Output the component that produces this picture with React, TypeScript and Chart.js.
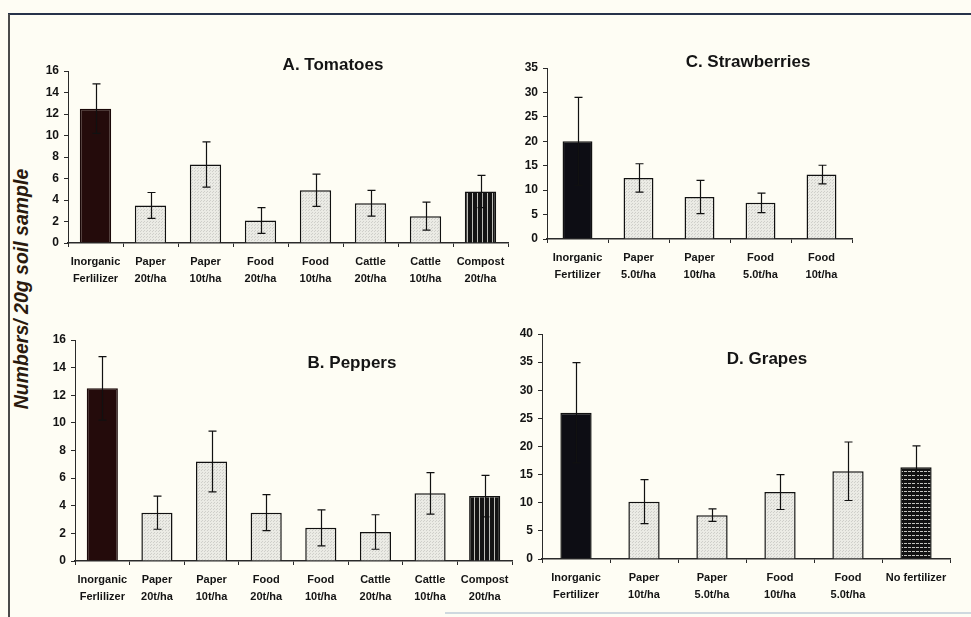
import React, { useEffect, useRef } from "react";
import { Chart, registerables } from "chart.js";

Chart.register(...registerables);

// ---------- DATA ----------
const tomatoLabels: string[][] = [
  ["Inorganic", "Ferlilizer"], ["Paper", "20t/ha"], ["Paper", "10t/ha"], ["Food", "20t/ha"],
  ["Food", "10t/ha"], ["Cattle", "20t/ha"], ["Cattle", "10t/ha"], ["Compost", "20t/ha"],
];
const tomatoValues = [12.5, 3.5, 7.3, 2.1, 4.9, 3.7, 2.5, 4.8];
const tomatoErrors = [2.3, 1.2, 2.1, 1.2, 1.5, 1.2, 1.3, 1.5];
const tomatoFills = ["darkRed", "light", "light", "light", "light", "light", "light", "vstripe"];

const pepperLabels: string[][] = [
  ["Inorganic", "Ferlilizer"], ["Paper", "20t/ha"], ["Paper", "10t/ha"], ["Food", "20t/ha"],
  ["Food", "10t/ha"], ["Cattle", "20t/ha"], ["Cattle", "10t/ha"], ["Compost", "20t/ha"],
];
const pepperValues = [12.5, 3.5, 7.2, 3.5, 2.4, 2.1, 4.9, 4.7];
const pepperErrors = [2.3, 1.2, 2.2, 1.3, 1.3, 1.25, 1.5, 1.5];
const pepperFills = ["darkRed", "light", "light", "light", "light", "light", "light", "vstripe"];

const strawberryLabels: string[][] = [
  ["Inorganic", "Fertilizer"], ["Paper", "5.0t/ha"], ["Paper", "10t/ha"], ["Food", "5.0t/ha"], ["Food", "10t/ha"],
];
const strawberryValues = [20.0, 12.5, 8.6, 7.4, 13.2];
const strawberryErrors = [9.0, 2.9, 3.4, 2.0, 1.9];
const strawberryFills = ["dark", "light", "light", "light", "light"];

const grapeLabels: (string | string[])[] = [
  ["Inorganic", "Fertilizer"], ["Paper", "10t/ha"], ["Paper", "5.0t/ha"], ["Food", "10t/ha"], ["Food", "5.0t/ha"], "No fertilizer",
];
const grapeValues = [26.0, 10.2, 7.8, 11.9, 15.6, 16.3];
const grapeErrors = [8.9, 3.9, 1.1, 3.1, 5.2, 3.8];
const grapeFills = ["dark", "light", "light", "light", "light", "hstripe"];

const yAxisTitle = "Numbers/ 20g soil sample";

// ---------- LAYOUT / STYLE ----------
const Y_AXIS_W = 50;
const X_AXIS_H = 52;
const PAD_TOP = 30;
const PAD_RIGHT = 10;

type PanelSpec = {
  title: string;
  labels: (string | string[])[];
  values: number[];
  errors: number[];
  fills: string[];
  max: number;
  step: number;
  plot: { left: number; right: number; top: number; bottom: number };
  titlePos: { x: number; y: number };
  barPct: number;
};

const panels: PanelSpec[] = [
  {
    title: "A. Tomatoes", labels: tomatoLabels, values: tomatoValues, errors: tomatoErrors, fills: tomatoFills,
    max: 16, step: 2, plot: { left: 68, right: 508, top: 71, bottom: 243 }, titlePos: { x: 333, y: 65 }, barPct: 0.57,
  },
  {
    title: "B. Peppers", labels: pepperLabels, values: pepperValues, errors: pepperErrors, fills: pepperFills,
    max: 16, step: 2, plot: { left: 75, right: 512, top: 340, bottom: 561 }, titlePos: { x: 352, y: 363 }, barPct: 0.57,
  },
  {
    title: "C. Strawberries", labels: strawberryLabels, values: strawberryValues, errors: strawberryErrors, fills: strawberryFills,
    max: 35, step: 5, plot: { left: 547, right: 852, top: 68, bottom: 239 }, titlePos: { x: 748, y: 62 }, barPct: 0.49,
  },
  {
    title: "D. Grapes", labels: grapeLabels, values: grapeValues, errors: grapeErrors, fills: grapeFills,
    max: 40, step: 5, plot: { left: 542, right: 950, top: 334, bottom: 559 }, titlePos: { x: 767, y: 359 }, barPct: 0.46,
  },
];

const BG = "#fefdf4";
const AXIS = "#2a2a2a";
const TEXT = "#141414";

function makePattern(kind: string): CanvasPattern | string {
  const c = document.createElement("canvas");
  const g = c.getContext("2d")!;
  if (kind === "light") {
    c.width = 3; c.height = 3;
    g.fillStyle = "#ebebe5"; g.fillRect(0, 0, 3, 3);
    g.fillStyle = "#cfcfca"; g.fillRect(0, 0, 1, 1); g.fillRect(2, 1, 1, 1);
  } else if (kind === "vstripe") {
    c.width = 5; c.height = 1;
    g.fillStyle = "#141414"; g.fillRect(0, 0, 5, 1);
    g.fillStyle = "#bdbdb8"; g.fillRect(4, 0, 1, 1);
  } else if (kind === "hstripe") {
    c.width = 4; c.height = 4;
    g.fillStyle = "#121212"; g.fillRect(0, 0, 4, 4);
    g.fillStyle = "#c4c4c0"; g.fillRect(0, 3, 3, 1);
  } else if (kind === "darkRed") {
    return "#240b0b";
  } else {
    return "#0d0d14";
  }
  return g.createPattern(c, "repeat")!;
}

const errorBarPlugin = {
  id: "errorBars",
  afterDatasetsDraw(chart: any, _args: any, opts: any) {
    const errs: number[] = opts.errors || [];
    const meta = chart.getDatasetMeta(0);
    const ys = chart.scales.y;
    const vals = chart.data.datasets[0].data as number[];
    const ctx = chart.ctx;
    ctx.save();
    ctx.strokeStyle = "#111";
    ctx.lineWidth = 1.2;
    meta.data.forEach((bar: any, i: number) => {
      const v = vals[i];
      const e = errs[i];
      if (e == null) return;
      const x = Math.round(bar.x) + 0.5;
      const yt = ys.getPixelForValue(v + e);
      const yb = ys.getPixelForValue(Math.max(0, v - e));
      ctx.beginPath();
      ctx.moveTo(x, yt); ctx.lineTo(x, yb);
      ctx.moveTo(x - 4, yt); ctx.lineTo(x + 4, yt);
      ctx.moveTo(x - 4, yb); ctx.lineTo(x + 4, yb);
      ctx.stroke();
    });
    ctx.restore();
  },
};

const panelTitlePlugin = {
  id: "panelTitle",
  afterDraw(chart: any, _args: any, opts: any) {
    const ctx = chart.ctx;
    ctx.save();
    ctx.font = "bold 17px Arial, 'Liberation Sans', sans-serif";
    ctx.fillStyle = TEXT;
    ctx.textAlign = "center";
    ctx.textBaseline = "middle";
    ctx.fillText(opts.text, opts.x, opts.y);
    ctx.restore();
  },
};

function Panel({ spec }: { spec: PanelSpec }) {
  const ref = useRef<HTMLCanvasElement | null>(null);
  const cLeft = spec.plot.left - Y_AXIS_W;
  const cTop = spec.plot.top - PAD_TOP;
  const cW = spec.plot.right + PAD_RIGHT - cLeft;
  const cH = spec.plot.bottom + X_AXIS_H - cTop;

  useEffect(() => {
    if (!ref.current) return;
    const fills = spec.fills.map((f) => makePattern(f));
    const borders = spec.fills.map((f) => (f === "darkRed" ? "#1a0808" : "#111"));
    const chart = new Chart(ref.current, {
      type: "bar",
      data: {
        labels: spec.labels as any,
        datasets: [
          {
            data: spec.values,
            backgroundColor: fills as any,
            borderColor: borders,
            borderWidth: 1.5,
            barPercentage: spec.barPct,
            categoryPercentage: 1,
          },
        ],
      },
      options: {
        responsive: false,
        animation: false,
        layout: { padding: { top: PAD_TOP, right: PAD_RIGHT, left: 0, bottom: 0 } },
        plugins: {
          legend: { display: false },
          tooltip: { enabled: false },
          title: { display: false },
          errorBars: { errors: spec.errors },
          panelTitle: { text: spec.title, x: spec.titlePos.x - cLeft, y: spec.titlePos.y - cTop },
        } as any,
        scales: {
          x: {
            offset: true,
            grid: { display: true, drawOnChartArea: false, offset: true, tickLength: 4, color: AXIS, lineWidth: 1 },
            border: { display: true, color: AXIS, width: 1.5 },
            ticks: {
              color: TEXT,
              font: { family: "Arial, 'Liberation Sans', sans-serif", size: 11, weight: "bold", lineHeight: 1.55 },
              padding: 6,
              maxRotation: 0,
              minRotation: 0,
              autoSkip: false,
            },
            afterFit: (s: any) => { s.height = X_AXIS_H; },
          },
          y: {
            min: 0,
            max: spec.max,
            grid: { display: true, drawOnChartArea: false, tickLength: 4, color: AXIS, lineWidth: 1 },
            border: { display: true, color: AXIS, width: 1 },
            ticks: {
              stepSize: spec.step,
              color: TEXT,
              font: { family: "Arial, 'Liberation Sans', sans-serif", size: 12, weight: "bold" },
              padding: 5,
            },
            afterFit: (s: any) => { s.width = Y_AXIS_W; },
          },
        },
      },
      plugins: [errorBarPlugin, panelTitlePlugin],
    });
    return () => chart.destroy();
  }, []);

  return (
    <canvas
      ref={ref}
      width={cW}
      height={cH}
      style={{ position: "absolute", left: cLeft, top: cTop, width: cW, height: cH }}
    />
  );
}

export default function App() {
  return (
    <div
      style={{
        position: "absolute", left: 0, top: 0, width: 971, height: 617,
        background: BG, overflow: "hidden",
      }}
    >
      <div style={{ position: "absolute", left: 8, top: 13, width: 963, height: 2, background: "#27324a" }} />
      <div style={{ position: "absolute", left: 8, top: 14, width: 2, height: 603, background: "#4a4a4a" }} />
      <div style={{ position: "absolute", left: 445, top: 612, width: 526, height: 2, background: "#cfd9df" }} />
      <div
        style={{
          position: "absolute", left: 22 - 160, top: 289 - 12, width: 320, height: 24,
          transform: "rotate(-90deg)", textAlign: "center", lineHeight: "24px",
          font: "italic bold 19.5px Arial, 'Liberation Sans', sans-serif", color: "#2a1a0e",
          whiteSpace: "nowrap",
        }}
      >
        {yAxisTitle}
      </div>
      {panels.map((p) => (
        <Panel key={p.title} spec={p} />
      ))}
    </div>
  );
}
